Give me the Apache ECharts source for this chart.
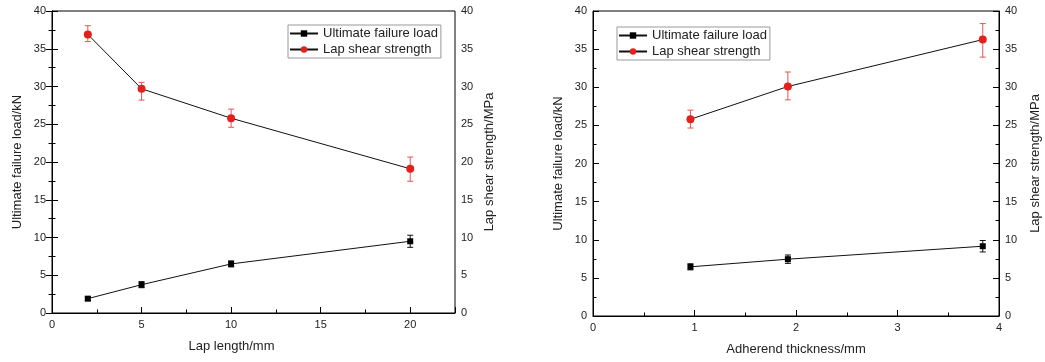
<!DOCTYPE html>
<html>
<head>
<meta charset="utf-8">
<script src="https://cdn.jsdelivr.net/npm/echarts@6/dist/echarts.min.js"></script>
<style>
  html, body { margin: 0; padding: 0; background: #fff; }
  #chart { width: 1045px; height: 362px; }
</style>
</head>
<body>
<div id="chart"></div>
<script>
// left panel: lap length
const lapLength = [2, 5, 10, 20];
const lapLoad = [1.9, 3.75, 6.5, 9.5];
const lapLoadErr = [0.25, 0.4, 0.4, 0.8];
const lapStrength = [36.9, 29.7, 25.8, 19.1];
const lapStrengthLow = [35.95, 28.2, 24.6, 17.45];
const lapStrengthHigh = [38.05, 30.55, 27.0, 20.65];

// right panel: adherend thickness
const thickness = [0.96, 1.92, 3.84];
const thkLoad = [6.45, 7.45, 9.15];
const thkLoadErr = [0.4, 0.55, 0.75];
const thkStrength = [25.8, 30.1, 36.25];
const thkStrengthLow = [24.65, 28.35, 33.95];
const thkStrengthHigh = [27.0, 32.0, 38.35];

const FONT = "'Liberation Sans', Arial, sans-serif";
const TXT = '#222';
const RED = '#e3201b';
const RED_ERR = '#e8554e';

const pairs = (xs, ys) => xs.map((x, i) => [x, ys[i]]);
const bars = (xs, lo, hi) => xs.map((x, i) => [x, lo[i], hi[i]]);

// draw a vertical error bar with caps
const renderErr = (params, api) => {
  const x = api.value(0);
  const top = api.coord([x, api.value(2)]);
  const bot = api.coord([x, api.value(1)]);
  const w = 3;
  const style = { stroke: api.visual('color'), lineWidth: 1 };
  return {
    type: 'group',
    children: [
      { type: 'line', shape: { x1: top[0], y1: top[1], x2: bot[0], y2: bot[1] }, style },
      { type: 'line', shape: { x1: top[0] - w, y1: top[1], x2: top[0] + w, y2: top[1] }, style },
      { type: 'line', shape: { x1: bot[0] - w, y1: bot[1], x2: bot[0] + w, y2: bot[1] }, style },
    ],
  };
};

const tickLabel = { color: TXT, fontFamily: FONT, fontSize: 11, margin: 6 };
const axisLine = { show: true, lineStyle: { color: '#000', width: 1 } };
const nameStyle = { color: TXT, fontFamily: FONT, fontSize: 13 };

const yAxis = (grid, pos, name, gap) => ({
  type: 'value', gridIndex: grid, position: pos, min: 0, max: 40, interval: 5,
  name, nameLocation: 'middle', nameGap: gap, nameTextStyle: nameStyle,
  axisLine, splitLine: { show: false },
  axisTick: { show: true, inside: true, length: 6, lineStyle: { color: '#000' } },
  minorTick: { show: true, splitNumber: 2, length: 3.5, lineStyle: { color: '#000' } },
  axisLabel: tickLabel,
});

const legend = (left, top) => ({
  orient: 'vertical', left, top,
  data: ['Ultimate failure load', 'Lap shear strength'],
  itemWidth: 28, itemHeight: 8, itemGap: 3,
  padding: [2, 3, 2, 1],
  borderColor: '#999', borderWidth: 1, backgroundColor: '#fff',
  textStyle: { color: TXT, fontFamily: FONT, fontSize: 13 },
});

const lineSeries = (name, xa, ya, data, symbol, size, color) => ({
  name, type: 'line', xAxisIndex: xa, yAxisIndex: ya, data,
  symbol, symbolSize: size, z: 5,
  lineStyle: { color: '#111', width: 1 },
  itemStyle: { color },
});

const errSeries = (xa, ya, data, color) => ({
  type: 'custom', xAxisIndex: xa, yAxisIndex: ya, data, z: 3,
  itemStyle: { color }, renderItem: renderErr, silent: true,
});

const chart = echarts.init(document.getElementById('chart'), null, { renderer: 'canvas' });

chart.setOption({
  animation: false,
  backgroundColor: '#fff',
  textStyle: { fontFamily: FONT },
  grid: [
    { left: 52, right: 590, top: 11, bottom: 49, show: true, borderColor: '#000', borderWidth: 1 },
    { left: 593, right: 46, top: 11, bottom: 46, show: true, borderColor: '#000', borderWidth: 1 },
  ],
  legend: [legend(288, 25), legend(617, 27)],
  xAxis: [
    {
      type: 'value', gridIndex: 0, min: 0, max: 22.5, interval: 5,
      name: 'Lap length/mm', nameLocation: 'middle', nameGap: 27,
      nameTextStyle: Object.assign({ padding: [0, 44, 0, 0] }, nameStyle),
      axisLine, splitLine: { show: false },
      axisTick: { show: true, inside: true, length: 6, lineStyle: { color: '#000' } },
      axisLabel: Object.assign({}, tickLabel, { formatter: (v) => (v % 5 === 0 ? v : '') }),
    },
    {
      // minor ticks for the lap length axis
      type: 'value', gridIndex: 0, position: 'bottom', min: 0, max: 22.5, interval: 2.5,
      axisLine: { show: false }, splitLine: { show: false }, axisLabel: { show: false },
      axisTick: { show: true, inside: true, length: 3.5, lineStyle: { color: '#000' } },
    },
    {
      type: 'value', gridIndex: 1, min: 0, max: 4, interval: 1,
      name: 'Adherend thickness/mm', nameLocation: 'middle', nameGap: 27,
      nameTextStyle: nameStyle,
      axisLine, splitLine: { show: false },
      axisTick: { show: true, inside: true, length: 6, lineStyle: { color: '#000' } },
      minorTick: { show: true, splitNumber: 2, length: 3.5, lineStyle: { color: '#000' } },
      axisLabel: tickLabel,
    },
  ],
  yAxis: [
    yAxis(0, 'left', 'Ultimate failure load/kN', 28),
    yAxis(0, 'right', 'Lap shear strength/MPa', 28),
    yAxis(1, 'left', 'Ultimate failure load/kN', 28),
    yAxis(1, 'right', 'Lap shear strength/MPa', 30),
  ],
  series: [
    errSeries(0, 0, bars(lapLength, lapLoad.map((v, i) => v - lapLoadErr[i]), lapLoad.map((v, i) => v + lapLoadErr[i])), '#111'),
    errSeries(0, 1, bars(lapLength, lapStrengthLow, lapStrengthHigh), RED_ERR),
    lineSeries('Ultimate failure load', 0, 0, pairs(lapLength, lapLoad), 'rect', 6, '#000'),
    lineSeries('Lap shear strength', 0, 1, pairs(lapLength, lapStrength), 'circle', 8, RED),

    errSeries(2, 2, bars(thickness, thkLoad.map((v, i) => v - thkLoadErr[i]), thkLoad.map((v, i) => v + thkLoadErr[i])), '#111'),
    errSeries(2, 3, bars(thickness, thkStrengthLow, thkStrengthHigh), RED_ERR),
    lineSeries('Ultimate failure load', 2, 2, pairs(thickness, thkLoad), 'rect', 6, '#000'),
    lineSeries('Lap shear strength', 2, 3, pairs(thickness, thkStrength), 'circle', 8, RED),
  ],
});
</script>
</body>
</html>
